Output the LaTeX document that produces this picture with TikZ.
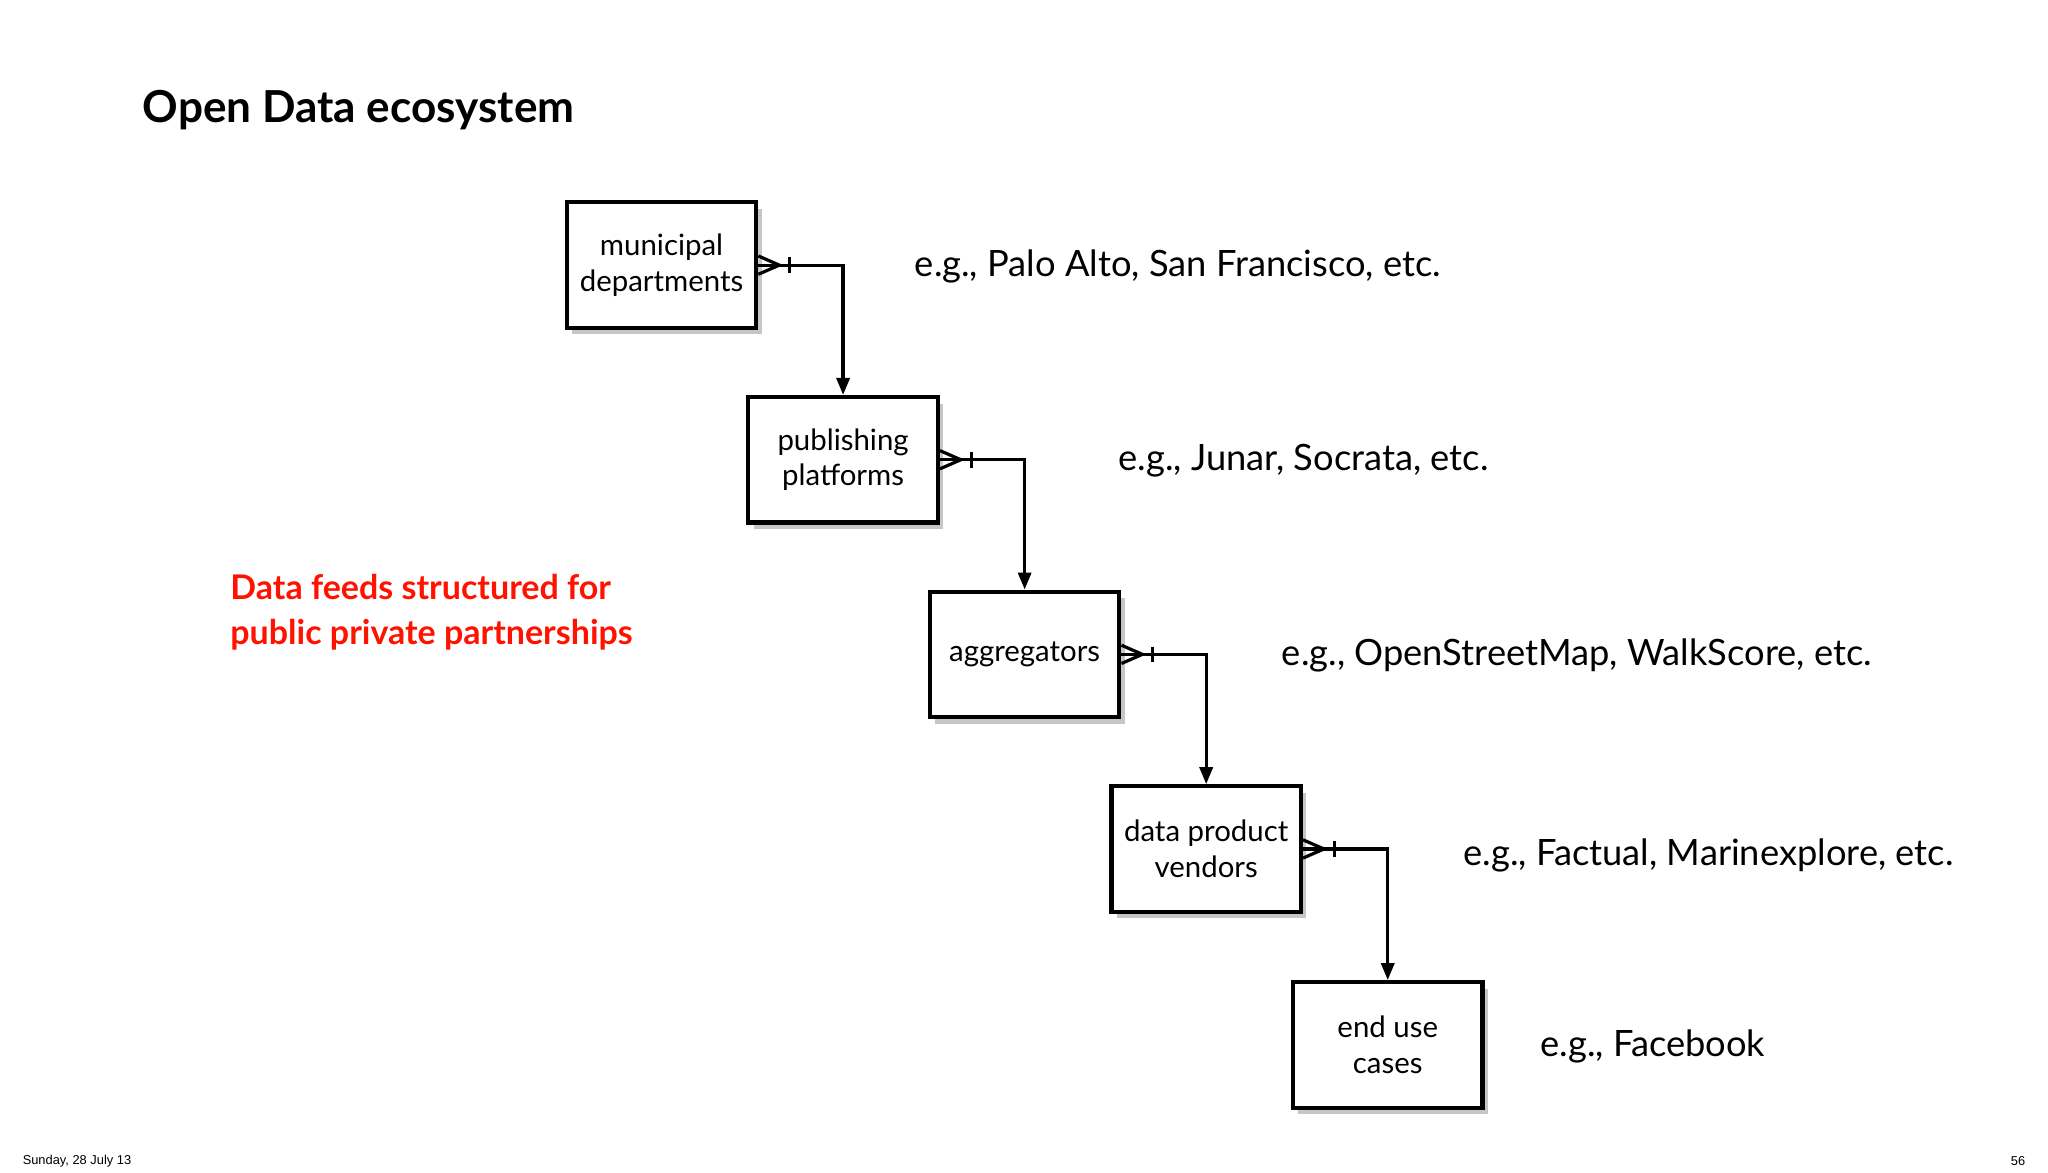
\documentclass[tikz,border=0pt]{standalone}
\usepackage{fontspec}
\setmainfont{Lato}
\newfontfamily\footfont{Liberation Sans}
\usetikzlibrary{arrows.meta,shadows}
\begin{document}
\begin{tikzpicture}[x=0.01cm,y=-0.01cm,
  ebox/.style={draw,line width=0.9pt,fill=white,minimum width=1.45cm,minimum height=0.96cm,align=center,inner sep=0pt,font=\fontsize{6.4pt}{7.8pt}\selectfont,drop shadow={shadow xshift=0.04cm,shadow yshift=-0.05cm,opacity=0.45}},
  lbl/.style={anchor=west,font=\fontsize{7.9pt}{9pt}\selectfont},
  conn/.style={line width=0.7pt,-{Triangle[length=0.13cm,width=0.1cm]}}]
\useasboundingbox (0,0) rectangle (1568,898);
\node[anchor=west,font=\bfseries\fontsize{9.6pt}{11pt}\selectfont] (title) at (97,84) {Open Data ecosystem};
\node[anchor=west,align=left,text=red!85!orange,font=\bfseries\fontsize{7.4pt}{9.8pt}\selectfont] (red) at (164,469) {Data feeds structured for\\public private partnerships};
\node[ebox] (b1) at (506.5,203) {municipal\\departments};
\node[ebox] (b2) at (645.5,352) {publishing\\platforms};
\node[ebox] (b3) at (784.5,501) {aggregators};
\node[ebox] (b4) at (923.5,650) {data product\\vendors};
\node[ebox] (b5) at (1062.5,800) {end use\\cases};
\node[lbl] (l1) at (688,204) {e.g., Palo Alto, San Francisco, etc.};
\node[lbl] (l2) at (844,353) {e.g., Junar, Socrata, etc.};
\node[lbl] (l3) at (969,502) {e.g., OpenStreetMap, WalkScore, etc.};
\node[lbl] (l4) at (1108,655) {e.g., Factual, Marinexplore, etc.};
\node[lbl] (l5) at (1167,801) {e.g., Facebook};
\foreach \a/\b in {b1/b2,b2/b3,b3/b4,b4/b5}{
  \draw[conn] (\a.east) -| (\b.north);
  \draw[line width=0.7pt] ([yshift=0.07cm]\a.east) -- ([xshift=0.16cm]\a.east) -- ([yshift=-0.07cm]\a.east);
  \draw[line width=0.7pt] ([xshift=0.24cm,yshift=0.06cm]\a.east) -- ([xshift=0.24cm,yshift=-0.06cm]\a.east);
}
\node[anchor=west,font=\footfont\fontsize{2.8pt}{3pt}\selectfont] (foot) at (5,889) {Sunday, 28 July 13};
\node[anchor=east,font=\footfont\fontsize{2.8pt}{3pt}\selectfont] (page) at (1563,889) {56};
\end{tikzpicture}
\end{document}
